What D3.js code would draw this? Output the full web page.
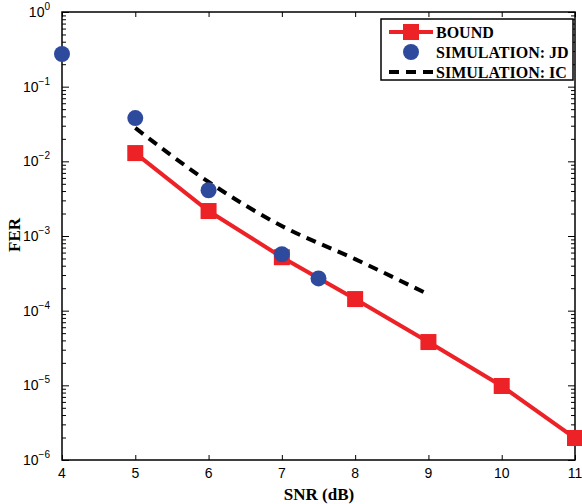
<!DOCTYPE html>
<html><head><meta charset="utf-8">
<script src="https://cdn.jsdelivr.net/npm/d3@7"></script>
<style>body{margin:0;background:#fff}svg{display:block}</style>
</head><body>
<svg id="c" width="582" height="504"></svg>
<script>
const boundX = [5, 6, 7, 8, 9, 10, 11];
const boundY = [0.0129, 0.00216, 0.00052, 0.000143, 0.000038, 0.0000098, 0.00000197];
const jdX = [4, 5, 6, 7, 7.5];
const jdY = [0.274, 0.038, 0.0041, 0.00057, 0.00027];
const icX = [5, 6, 7, 8, 9];
const icY = [0.028, 0.0053, 0.00136, 0.00049, 0.000165];
const xTicks = [4, 5, 6, 7, 8, 9, 10, 11];
const yExps = [0, -1, -2, -3, -4, -5, -6];
const legendLabels = ["BOUND", "SIMULATION: JD", "SIMULATION: IC"];

const RED = "#ed2227", BLUE = "#2d4a9d";
const L = 62, R = 575, T = 12, B = 460;
const svg = d3.select("#c");
const x = d3.scaleLinear().domain([4, 11]).range([L, R]);
const y = d3.scaleLog().domain([1e-6, 1]).range([B, T]);

const minor = [];
for (let e = -6; e < 0; e++) for (let k = 2; k <= 9; k++) minor.push(k * Math.pow(10, e));

const g = svg.append("g");
const axL = d3.axisLeft(y).tickValues(yExps.map(e => Math.pow(10, e))).tickSize(-7).tickFormat("");
const axLm = d3.axisLeft(y).tickValues(minor).tickSize(-4).tickFormat("");
const axR = d3.axisRight(y).tickValues(yExps.map(e => Math.pow(10, e))).tickSize(-7).tickFormat("");
const axRm = d3.axisRight(y).tickValues(minor).tickSize(-4).tickFormat("");
const axB = d3.axisBottom(x).tickValues(xTicks).tickSize(-5).tickFormat("");
const axT = d3.axisTop(x).tickValues(xTicks).tickSize(-5).tickFormat("");
[[axL, `translate(${L},0)`], [axLm, `translate(${L},0)`], [axR, `translate(${R},0)`], [axRm, `translate(${R},0)`],
 [axB, `translate(0,${B})`], [axT, `translate(0,${T})`]].forEach(([a, t]) => {
  const gg = g.append("g").attr("transform", t).call(a);
  gg.select(".domain").remove();
  gg.selectAll("line").attr("stroke", "#000").attr("stroke-width", 1);
});
g.append("rect").attr("x", L).attr("y", T).attr("width", R - L).attr("height", B - T)
  .attr("fill", "none").attr("stroke", "#000").attr("stroke-width", 1.5);

const font = "'Liberation Sans', Arial, Helvetica, sans-serif";
xTicks.forEach(v => {
  svg.append("text").attr("x", x(v)).attr("y", B + 18).attr("text-anchor", "middle")
    .attr("font-family", font).attr("font-size", 14).text(v);
});
yExps.forEach(e => {
  const t = svg.append("text").attr("x", L - 12).attr("y", y(Math.pow(10, e)) + 5).attr("text-anchor", "end")
    .attr("font-family", font).attr("font-size", 14);
  t.append("tspan").text("10");
  t.append("tspan").attr("dy", -7).attr("font-size", 10).text(e === 0 ? "0" : "\u2212" + (-e));
});

const serif = "'Liberation Serif', 'Times New Roman', serif";
svg.append("text").attr("x", (L + R) / 2 + 0.5).attr("y", 500).attr("text-anchor", "middle")
  .attr("font-family", serif).attr("font-weight", "bold").attr("font-size", 17).text("SNR (dB)");
svg.append("text").attr("transform", `translate(20,${(T + B) / 2 - 1}) rotate(-90)`).attr("text-anchor", "middle")
  .attr("font-family", serif).attr("font-weight", "bold").attr("font-size", 17).text("FER");

const line = d3.line().x(d => x(d[0])).y(d => y(d[1]));
const bound = boundX.map((v, i) => [v, boundY[i]]);
const ic = icX.map((v, i) => [v, icY[i]]);
const jd = jdX.map((v, i) => [v, jdY[i]]);
const S = 16;
svg.append("path").datum(bound).attr("d", line).attr("fill", "none").attr("stroke", RED).attr("stroke-width", 4);
svg.selectAll(".sq").data(bound).enter().append("rect")
  .attr("x", d => x(d[0]) - S / 2).attr("y", d => y(d[1]) - S / 2).attr("width", S).attr("height", S).attr("fill", RED);
svg.append("path").datum(ic).attr("d", d3.line().curve(d3.curveMonotoneX).x(d => x(d[0])).y(d => y(d[1])))
  .attr("fill", "none").attr("stroke", "#000").attr("stroke-width", 4).attr("stroke-dasharray", "10,7");
svg.selectAll(".ci").data(jd).enter().append("circle")
  .attr("cx", d => x(d[0])).attr("cy", d => y(d[1])).attr("r", 8).attr("fill", BLUE);

const lg = svg.append("g");
lg.append("rect").attr("x", 381).attr("y", 19).attr("width", 192).attr("height", 61)
  .attr("fill", "#fff").attr("stroke", "#000").attr("stroke-width", 1.5);
const ly = [32, 52, 72];
lg.append("line").attr("x1", 389).attr("x2", 433).attr("y1", ly[0]).attr("y2", ly[0]).attr("stroke", RED).attr("stroke-width", 4);
lg.append("rect").attr("x", 411 - S / 2).attr("y", ly[0] - S / 2).attr("width", S).attr("height", S).attr("fill", RED);
lg.append("circle").attr("cx", 411).attr("cy", ly[1]).attr("r", 8).attr("fill", BLUE);
lg.append("line").attr("x1", 389).attr("x2", 433).attr("y1", ly[2]).attr("y2", ly[2]).attr("stroke", "#000").attr("stroke-width", 4).attr("stroke-dasharray", "10,7");
legendLabels.forEach((t, i) => {
  lg.append("text").attr("x", 436).attr("y", ly[i] + 6).attr("font-family", serif).attr("font-weight", "bold")
    .attr("font-size", 16).text(t);
});
</script>
</body></html>
